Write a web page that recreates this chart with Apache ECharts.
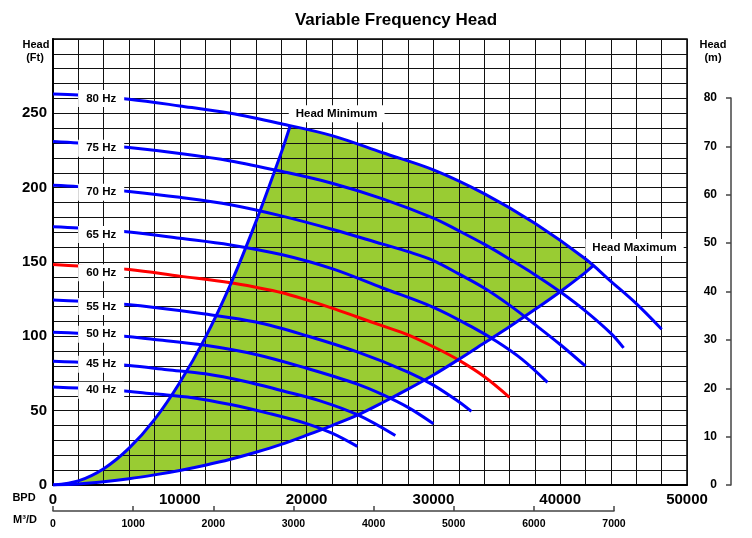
<!DOCTYPE html>
<html><head><meta charset="utf-8">
<script src="https://cdn.jsdelivr.net/npm/echarts@6/dist/echarts.min.js"></script>
<style>html,body{margin:0;padding:0;background:#fff}#c{width:752px;height:538px}</style>
</head><body><div id="c"></div>
<script>
const FONT = 'Liberation Sans, Arial, Helvetica, sans-serif';

// Frequency curves: [BPD, Head ft]
const hz80 = [[0,263],[2000,262.3],[6000,259.5],[10000,255],[14000,250],[18000,243],[22000,235],[26000,223.5],[30000,212],[34000,196],[38000,176],[42000,152],[44000,137],[46000,122],[48000,104.8]];
const hz75 = [[0,231],[2000,230],[6000,227],[10000,223],[14000,218],[18000,211],[22000,203],[26000,192.5],[30000,179.5],[32000,171],[34000,162],[36000,152],[38000,141.5],[40000,130],[42000,117],[44000,102],[45000,92.2]];
const hz70 = [[0,201.6],[2000,200.7],[6000,197.5],[10000,193.5],[14000,188.5],[18000,181],[22000,172],[26000,162],[28000,157],[30000,151],[32000,142],[34000,132.5],[36000,121],[38000,108],[40000,94.5],[42000,79.9]];
const hz65 = [[0,173.7],[2000,172.8],[6000,170.2],[10000,166],[14000,161.5],[18000,155],[22000,145.5],[26000,132.5],[30000,119.5],[33000,106.5],[35000,96.5],[37000,84.5],[39000,69]];
const hz60 = [[0,148.3],[2000,147.3],[6000,145],[10000,140.5],[14000,136],[16000,133],[18000,129.5],[20000,124.5],[22000,119],[24000,113],[26000,107],[28000,101],[30000,93],[32000,84],[34000,73],[36000,59]];
const hz55 = [[0,124.5],[4000,122.7],[8000,119.4],[12000,115],[16000,109.6],[20000,100.4],[24000,89.5],[28000,76],[30000,67.2],[32000,56],[33000,49.5]];
const hz50 = [[0,102.8],[4000,101.2],[8000,97.9],[12000,94],[16000,87.8],[20000,78.5],[24000,67.9],[26000,60.8],[28000,52.2],[30000,41.2]];
const hz45 = [[0,83.3],[3000,82.2],[6000,80.4],[9000,77.6],[12000,74.8],[15000,70],[18000,63.6],[21000,56.8],[24000,47.3],[27000,33.3]];
const hz40 = [[0,65.9],[2000,65.2],[5000,63.8],[8000,61.3],[11000,58.7],[14000,54.1],[17000,48.2],[20000,41.3],[22000,34.9],[24000,26]];

// Operating envelope boundaries
const headMin = [[0,0],[2000,2.8],[4000,11],[6000,24.8],[8000,44],[10000,69],[12000,99],[14000,135],[16000,177],[18000,223.5],[18700,241.5]];
const headMax = [[0,0],[2000,0.7],[4000,2.2],[6000,4.2],[8000,6.8],[10000,9.8],[12000,13.3],[14000,17.3],[16000,22],[18000,27.3],[20000,33.5],[22000,40],[24000,47],[26000,55.5],[28000,64.5],[30000,74],[32000,84.5],[34000,95.5],[36000,106.5],[38000,118],[40000,130],[42000,143],[42600,147.5]];

// Labels
const freqNames = ['80 Hz','75 Hz','70 Hz','65 Hz','60 Hz','55 Hz','50 Hz','45 Hz','40 Hz'];
const freqLabelFt = [260,226.5,197,168.5,142.7,120,101.4,81.2,63.7];
const freqLabelBpd = 3800;
const envNames = ['Head Minimum','Head Maximum'];
const envLabelPos = [[22370,249.7],[45860,159.8]];

// Tick labels
const bpdTicks = [0,10000,20000,30000,40000,50000];
const ftTicks = [0,50,100,150,200,250];
const mTicks = [0,10,20,30,40,50,60,70,80];
const m3Ticks = [0,1000,2000,3000,4000,5000,6000,7000];

const curves = [hz80,hz75,hz70,hz65,hz60,hz55,hz50,hz45,hz40];

// fill polygon
const fillPoly = headMin.concat(
  hz80.filter(p => p[0] > headMin[headMin.length-1][0] && p[0] < headMax[headMax.length-1][0]),
  headMax.slice().reverse()
);

const chart = echarts.init(document.getElementById('c'), null, {renderer:'canvas'});

const lineSeries = curves.map((d,i) => ({
  type:'line', xAxisIndex:0, yAxisIndex:0, data:d, smooth:0.35,
  showSymbol:false, symbol:'none', silent:true, z:3,
  lineStyle:{color: freqNames[i]==='60 Hz' ? '#ff0000' : '#0000ff', width:3, cap:'butt'}
}));

const bold = (size) => ({fontFamily:FONT, fontWeight:'bold', fontSize:size, color:'#000'});
const labelBase = (pad) => Object.assign({show:true, position:'inside', formatter:'{b}', backgroundColor:'#ffffff',
  padding:pad, opacity:1, textBorderWidth:0, textShadowBlur:0}, bold(11.5));

const option = {
  animation:false,
  backgroundColor:'#fff',
  grid:[
    {left:53, right:65, top:39, bottom:53, show:true, borderColor:'#000', borderWidth:1.5, backgroundColor:'transparent'},
    {left:731, width:15, top:98, bottom:53},
    {left:53, width:561, top:510, height:1}
  ],
  xAxis:[
    {type:'value', gridIndex:0, min:0, max:50000, interval:2000,
     axisLine:{show:true, onZero:false, lineStyle:{color:'#000', width:2}},
     axisTick:{show:false},
     splitLine:{show:true, lineStyle:{color:'#111', width:1}},
     axisLabel:Object.assign({margin:7, formatter:v => bpdTicks.includes(v) ? String(v) : ''}, bold(15))},
    {type:'value', gridIndex:1, min:0, max:1, show:false},
    {type:'value', gridIndex:2, min:0, max:7000, interval:1000, position:'bottom',
     axisLine:{show:true, onZero:false, lineStyle:{color:'#444', width:1.5}},
     axisTick:{show:true, inside:true, length:5, lineStyle:{color:'#444', width:1.5}},
     splitLine:{show:false},
     axisLabel:Object.assign({margin:8, formatter:v => m3Ticks.includes(v) ? String(v) : ''}, bold(10.5))}
  ],
  yAxis:[
    {type:'value', gridIndex:0, min:0, max:300, interval:10,
     axisLine:{show:true, onZero:false, lineStyle:{color:'#000', width:2}},
     axisTick:{show:false},
     splitLine:{show:true, lineStyle:{color:'#111', width:1}},
     axisLabel:Object.assign({margin:6, formatter:v => ftTicks.includes(v) ? String(v) : ''}, bold(15))},
    {type:'value', gridIndex:1, min:0, max:80, interval:10, position:'left',
     axisLine:{show:true, onZero:false, lineStyle:{color:'#444', width:1.5}},
     axisTick:{show:true, length:5, lineStyle:{color:'#444', width:1.5}},
     splitLine:{show:false},
     axisLabel:Object.assign({margin:14, formatter:v => mTicks.includes(v) ? String(v) : ''}, bold(12))},
    {type:'value', gridIndex:2, min:0, max:1, show:false}
  ],
  graphic:[
    {type:'text', x:396, y:20, style:{text:'Variable Frequency Head', font:'bold 17px '+FONT, fill:'#000', align:'center', verticalAlign:'middle', textAlign:'center', textVerticalAlign:'middle'}},
    {type:'text', x:36, y:45, style:{text:'Head', font:'bold 11px '+FONT, fill:'#000', align:'center', verticalAlign:'middle', textAlign:'center', textVerticalAlign:'middle'}},
    {type:'text', x:35, y:58, style:{text:'(Ft)', font:'bold 11px '+FONT, fill:'#000', align:'center', verticalAlign:'middle', textAlign:'center', textVerticalAlign:'middle'}},
    {type:'text', x:713, y:45, style:{text:'Head', font:'bold 11px '+FONT, fill:'#000', align:'center', verticalAlign:'middle', textAlign:'center', textVerticalAlign:'middle'}},
    {type:'text', x:713, y:58, style:{text:'(m)', font:'bold 11px '+FONT, fill:'#000', align:'center', verticalAlign:'middle', textAlign:'center', textVerticalAlign:'middle'}},
    {type:'text', x:24, y:498, style:{text:'BPD', font:'bold 11px '+FONT, fill:'#000', align:'center', verticalAlign:'middle', textAlign:'center', textVerticalAlign:'middle'}},
    {type:'text', x:25, y:520, style:{text:'M³/D', font:'bold 11px '+FONT, fill:'#000', align:'center', verticalAlign:'middle', textAlign:'center', textVerticalAlign:'middle'}}
  ],
  series:[
    {type:'custom', xAxisIndex:0, yAxisIndex:0, z:-1, silent:true, data:[[0,0]],
     renderItem:function(params, api){
       const pts = fillPoly.map(p => api.coord(p));
       return {type:'polygon', shape:{points:pts}, style:{fill:'#99cc33', stroke:null}};
     }},
    {type:'line', xAxisIndex:0, yAxisIndex:0, data:headMin, smooth:0.3, showSymbol:false, symbol:'none', silent:true, z:4,
     lineStyle:{color:'#0000ff', width:3}},
    {type:'line', xAxisIndex:0, yAxisIndex:0, data:headMax, smooth:0.3, showSymbol:false, symbol:'none', silent:true, z:4,
     lineStyle:{color:'#0000ff', width:3}}
  ].concat(lineSeries).concat([
    {type:'scatter', xAxisIndex:0, yAxisIndex:0, z:10, silent:true, symbolSize:1,
     itemStyle:{color:'#ffffff', opacity:1},
     data:freqNames.map((n,i) => ({name:n, value:[freqLabelBpd, freqLabelFt[i]]})),
     label:labelBase([3,8,2,8])},
    {type:'scatter', xAxisIndex:0, yAxisIndex:0, z:10, silent:true, symbolSize:1,
     itemStyle:{color:'#ffffff', opacity:1},
     data:envNames.map((n,i) => ({name:n, value:envLabelPos[i]})),
     label:labelBase([3,7,2,7])}
  ])
};
chart.setOption(option);
</script></body></html>
